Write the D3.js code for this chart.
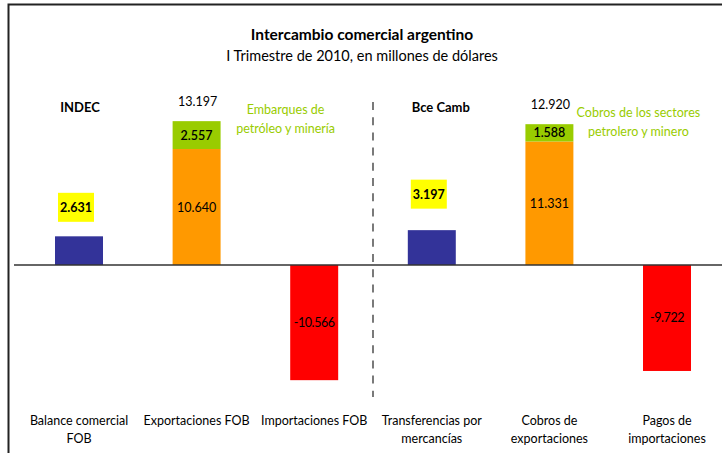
<!DOCTYPE html>
<html>
<head>
<meta charset="utf-8">
<script src="https://cdn.jsdelivr.net/npm/d3@7"></script>
<style>
  html, body { margin: 0; padding: 0; background: #fff; }
  svg { display: block; font-family: Lato, "Open Sans", sans-serif; }
</style>
</head>
<body>
<svg id="chart" width="722" height="453"></svg>
<script>
// data
const categories = [
  "Balance comercial FOB", "Exportaciones FOB", "Importaciones FOB",
  "Transferencias por mercancías", "Cobros de exportaciones", "Pagos de importaciones"
];
const categoryLines = [
  ["Balance comercial", "FOB"], ["Exportaciones FOB"], ["Importaciones FOB"],
  ["Transferencias por", "mercancías"], ["Cobros de", "exportaciones"], ["Pagos de", "importaciones"]
];
const baseValues = [2631, 10640, -10566, 3197, 11331, -9722];
const extraValues = [0, 2557, 0, 0, 1588, 0]; // petróleo y minería
const totalValues = [null, 13197, null, null, 12920, null]; // as printed in the source
const groups = ["INDEC", "Bce Camb"];
const groupStart = [0, 3];
const extraNotes = [null, ["Embarques de", "petróleo y minería"], null, null,
  ["Cobros de los sectores", "petrolero y minero"], null];

const baseColors = ["#333399", "#FF9900", "#FF0000", "#333399", "#FF9900", "#FF0000"];
const extraColor = "#99CC00";

const W = 722, H = 453, ZERO = 265;
const es = d3.formatLocale({ decimal: ",", thousands: ".", grouping: [3], currency: ["$", ""], minus: "-" });
const fmt = es.format(",d");

const svg = d3.select("#chart");

// frame (runs off the right/bottom edge like the original screenshot)
svg.append("rect")
  .attr("x", 8.5).attr("y", 4.5)
  .attr("width", W + 20).attr("height", H + 20)
  .attr("fill", "none").attr("stroke", "#222").attr("stroke-width", 2);

const x = d3.scaleBand()
  .domain(categories)
  .range([20.2, 725.8])
  .paddingInner(0.592)
  .paddingOuter(0.296);

const k = 0.0109;
const y = d3.scaleLinear()
  .domain([-12000, 14000])
  .range([ZERO + 12000 * k, ZERO - 14000 * k]);

const cx = (i) => x(categories[i]) + x.bandwidth() / 2;

// title
svg.append("text")
  .attr("x", 362).attr("y", 40)
  .attr("text-anchor", "middle")
  .attr("font-weight", "bold").attr("font-size", 15.5)
  .text("Intercambio comercial argentino");
svg.append("text")
  .attr("x", 362).attr("y", 61)
  .attr("text-anchor", "middle")
  .attr("font-size", 14.5)
  .text("I Trimestre de 2010, en millones de dólares");

// divider between sources
const divX = (cx(2) + cx(3)) / 2;
svg.append("line")
  .attr("x1", divX).attr("x2", divX)
  .attr("y1", 102).attr("y2", 397)
  .attr("stroke", "#333").attr("stroke-width", 1.3)
  .attr("stroke-dasharray", "8,7.2");

// base bars
svg.selectAll("rect.base")
  .data(baseValues)
  .join("rect")
  .attr("class", "base")
  .attr("x", (d, i) => x(categories[i]))
  .attr("width", x.bandwidth())
  .attr("y", (d) => y(Math.max(0, d)))
  .attr("height", (d) => Math.abs(y(d) - y(0)))
  .attr("fill", (d, i) => baseColors[i]);

// stacked oil & mining part
svg.selectAll("rect.extra")
  .data(extraValues)
  .join("rect")
  .attr("class", "extra")
  .attr("x", (d, i) => x(categories[i]))
  .attr("width", x.bandwidth())
  .attr("y", (d, i) => y(baseValues[i] + d))
  .attr("height", (d, i) => y(baseValues[i]) - y(baseValues[i] + d))
  .attr("fill", extraColor)
  .style("display", (d) => d > 0 ? null : "none");

// zero line
svg.append("line")
  .attr("x1", 14).attr("x2", W)
  .attr("y1", y(0)).attr("y2", y(0))
  .attr("stroke", "#333").attr("stroke-width", 1.5);

// group headings
groups.forEach((g, j) => {
  svg.append("text")
    .attr("x", cx(groupStart[j]) + (j === 0 ? 1 : 9))
    .attr("y", 112)
    .attr("text-anchor", "middle")
    .attr("font-weight", "bold").attr("font-size", 13)
    .text(g);
});

// labels
baseValues.forEach((v, i) => {
  const c = cx(i);
  if (baseColors[i] === "#333399") {
    // balance: bold value in a yellow box above the bar
    const lift = i === 0 ? 29 : 36;
    const my = y(v) - lift;
    svg.append("rect")
      .attr("x", c - 21).attr("y", my - 14.5)
      .attr("width", 36).attr("height", 29)
      .attr("fill", "#FFFF00");
    svg.append("text")
      .attr("x", c - 3).attr("y", my + 4.5)
      .attr("text-anchor", "middle")
      .attr("font-weight", "bold").attr("font-size", 12.5)
      .text(fmt(v));
  } else {
    const mid = (y(v) + y(0)) / 2;
    svg.append("text")
      .attr("x", c).attr("y", mid + 4.5)
      .attr("text-anchor", "middle")
      .attr("font-size", 12.5)
      .attr("letter-spacing", v < 0 ? -0.4 : 0)
      .text(fmt(v));
  }
  const e = extraValues[i];
  if (e > 0) {
    const top = y(totalValues[i]);
    svg.append("text")
      .attr("x", c).attr("y", (y(v + e) + y(v)) / 2 + 4.5)
      .attr("text-anchor", "middle")
      .attr("font-weight", 600).attr("font-size", 12.5)
      .text(fmt(e));
    svg.append("text")
      .attr("x", c + 1).attr("y", top - 15)
      .attr("text-anchor", "middle")
      .attr("font-size", 12.5)
      .text(fmt(totalValues[i]));
    svg.append("text")
      .attr("x", c + 89).attr("y", top - 7)
      .attr("text-anchor", "middle")
      .attr("font-size", 12.5)
      .attr("fill", extraColor)
      .selectAll("tspan")
      .data(extraNotes[i])
      .join("tspan")
      .attr("x", c + 89)
      .attr("dy", (d, n) => n === 0 ? 0 : 19)
      .text((d) => d);
  }
});

// category labels
svg.selectAll("text.cat")
  .data(categories)
  .join("text")
  .attr("class", "cat")
  .attr("text-anchor", "middle")
  .attr("font-size", 12.5)
  .attr("y", 425)
  .selectAll("tspan")
  .data((d, i) => categoryLines[i].map((t) => ({ t, i })))
  .join("tspan")
  .attr("x", (d) => cx(d.i))
  .attr("dy", (d, n) => n === 0 ? 0 : 18)
  .text((d) => d.t);
</script>
</body>
</html>
